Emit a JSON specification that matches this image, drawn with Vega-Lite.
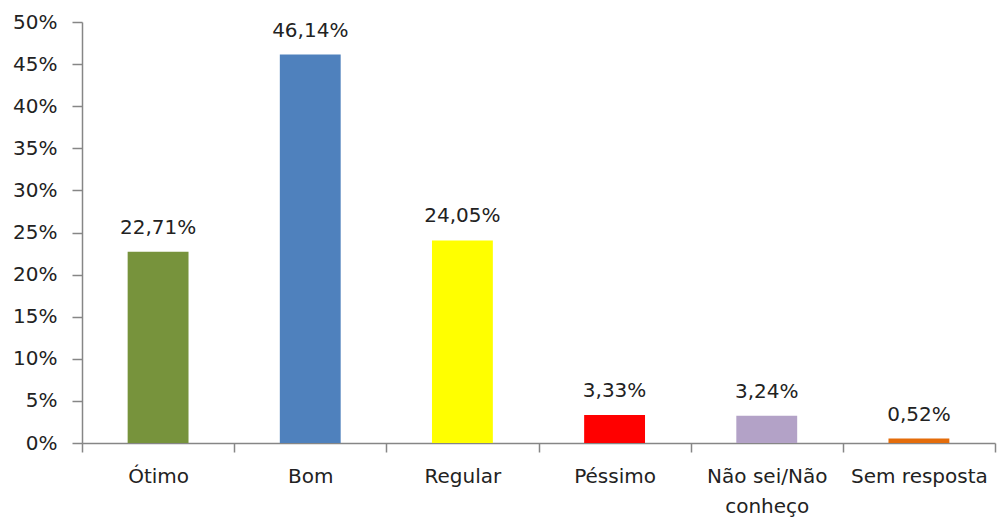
{
  "$schema": "https://vega.github.io/schema/vega-lite/v6.json",
  "width": 913,
  "height": 421,
  "autosize": {"type": "none"},
  "padding": {"left": 82, "top": 22, "right": 3, "bottom": 76},
  "background": "white",
  "data": {
    "values": [
      {"cat": "Ótimo", "value": 0.2271, "label": "22,71%", "color": "#77933C"},
      {"cat": "Bom", "value": 0.4614, "label": "46,14%", "color": "#4F81BD"},
      {"cat": "Regular", "value": 0.2405, "label": "24,05%", "color": "#FFFF00"},
      {"cat": "Péssimo", "value": 0.0333, "label": "3,33%", "color": "#FF0000"},
      {"cat": "Não sei/Não conheço", "value": 0.0324, "label": "3,24%", "color": "#B3A2C7"},
      {"cat": "Sem resposta", "value": 0.0052, "label": "0,52%", "color": "#E46C0A"}
    ]
  },
  "encoding": {
    "x": {
      "field": "cat", "type": "nominal", "sort": null, "title": null,
      "scale": {"paddingInner": 0, "paddingOuter": 0},
      "axis": {
        "labelAngle": 0, "labelFont": "DejaVu Sans", "labelFontSize": 20, "labelColor": "#222",
        "labelPadding": 14, "tickBand": "extent", "tickSize": 9, "tickColor": "#868686",
        "domainColor": "#868686", "domainWidth": 1.5, "tickWidth": 1.5,
        "labelLimit": 200, "labelLineHeight": 30,
        "labelExpr": "datum.label == 'Não sei/Não conheço' ? ['Não sei/Não', 'conheço'] : datum.label"
      }
    },
    "y": {
      "field": "value", "type": "quantitative", "title": null,
      "scale": {"domain": [0, 0.5], "nice": false},
      "axis": {
        "format": ".0%", "values": [0, 0.05, 0.1, 0.15, 0.2, 0.25, 0.3, 0.35, 0.4, 0.45, 0.5],
        "grid": false, "labelFont": "DejaVu Sans", "labelFontSize": 20, "labelColor": "#222",
        "tickSize": 10, "labelPadding": 15, "tickColor": "#868686", "domainColor": "#868686",
        "domainWidth": 1.5, "tickWidth": 1.5
      }
    }
  },
  "layer": [
    {
      "mark": {"type": "bar", "width": {"band": 0.4}},
      "encoding": {"color": {"field": "color", "type": "nominal", "scale": null}}
    },
    {
      "mark": {"type": "text", "baseline": "bottom", "dy": -14, "font": "DejaVu Sans", "fontSize": 20, "color": "#222"},
      "encoding": {"text": {"field": "label"}}
    }
  ],
  "config": {"view": {"stroke": null}}
}
